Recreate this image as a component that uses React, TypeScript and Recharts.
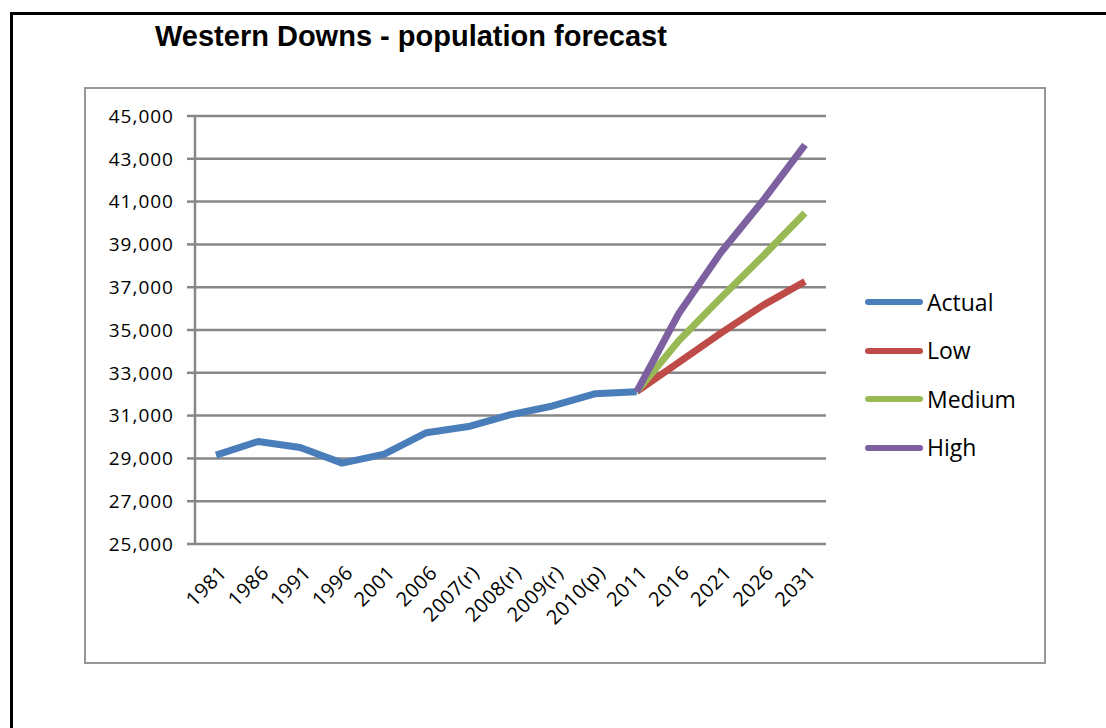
import React from 'react';
import { LineChart, Line, XAxis, YAxis, CartesianGrid } from 'recharts';

const years = ['1981', '1986', '1991', '1996', '2001', '2006', '2007(r)', '2008(r)', '2009(r)', '2010(p)', '2011', '2016', '2021', '2026', '2031'];
const actual = [29150, 29790, 29510, 28780, 29200, 30200, 30490, 31040, 31450, 32020, 32120, null, null, null, null];
const low = [null, null, null, null, null, null, null, null, null, null, 32120, 33490, 34850, 36150, 37270];
const medium = [null, null, null, null, null, null, null, null, null, null, 32120, 34500, 36500, 38450, 40470];
const high = [null, null, null, null, null, null, null, null, null, null, 32120, 35770, 38620, 41040, 43650];
const yTicks = [25000, 27000, 29000, 31000, 33000, 35000, 37000, 39000, 41000, 43000, 45000];

const series = [
  { key: 'actual', name: 'Actual', color: '#4A7EBB' },
  { key: 'low', name: 'Low', color: '#BE4B48' },
  { key: 'medium', name: 'Medium', color: '#98B954' },
  { key: 'high', name: 'High', color: '#7D60A0' },
];

const data = years.map((year, i) => ({
  i,
  year,
  actual: actual[i],
  low: low[i],
  medium: medium[i],
  high: high[i],
}));

// category centres sit on integers, the tick marks between them on halves
const labelTicks = years.map((_, i) => i);
const edgeTicks = [...years.map((_, i) => i - 0.5), years.length - 0.5];
const xDomain = [-0.5, years.length - 0.5];

const GRID = '#878787';
const FONT = '"Open Sans", sans-serif';

const YearTick = ({ x, y, payload }: any) => (
  <text
    x={x + 12}
    y={y + 30}
    transform={`rotate(-45 ${x + 12} ${y + 30})`}
    textAnchor="end"
    fontFamily={FONT}
    fontSize={20}
    letterSpacing={0.5}
    fill="#000"
  >
    {years[payload.value]}
  </text>
);

export default function App() {
  return (
    <div style={{ position: 'absolute', left: 0, top: 0, width: 1106, height: 728, background: '#fff', overflow: 'hidden' }}>
      <div style={{ position: 'absolute', left: 10, top: 12, width: 1200, height: 800, borderTop: '3px solid #000', borderLeft: '3px solid #000' }} />
      <div style={{ position: 'absolute', left: 84, top: 87, width: 962, height: 577, border: '2px solid #979797', boxSizing: 'border-box' }} />
      <div
        style={{
          position: 'absolute',
          left: 155,
          top: 22,
          fontFamily: '"Liberation Sans", Arial, sans-serif',
          fontWeight: 'bold',
          fontSize: 29,
          lineHeight: '29px',
          whiteSpace: 'nowrap',
        }}
      >
        Western Downs - population forecast
      </div>

      <div style={{ position: 'absolute', left: 0, top: 0 }}>
        <LineChart width={1106} height={728} data={data} margin={{ top: 116, right: 280, bottom: 114, left: 95 }}>
          <CartesianGrid xAxisId="label" vertical={false} stroke={GRID} strokeWidth={2.5} />
          <XAxis
            xAxisId="edge"
            dataKey="i"
            type="number"
            domain={xDomain}
            ticks={edgeTicks}
            interval={0}
            height={0}
            tick={false}
            tickSize={6}
            tickLine={{ stroke: GRID, strokeWidth: 2.5 }}
            axisLine={{ stroke: GRID, strokeWidth: 2.5 }}
          />
          <XAxis
            xAxisId="label"
            dataKey="i"
            type="number"
            domain={xDomain}
            ticks={labelTicks}
            interval={0}
            height={70}
            axisLine={false}
            tickLine={false}
            tickSize={0}
            tickMargin={0}
            tick={<YearTick />}
          />
          <YAxis
            width={100}
            domain={[25000, 45000]}
            ticks={yTicks}
            interval={0}
            tickSize={8}
            tickMargin={13}
            tickFormatter={(v: number) => v.toLocaleString('en-US')}
            tick={{ fontFamily: FONT, fontSize: 19, letterSpacing: 1, fill: '#000' }}
            tickLine={{ stroke: GRID, strokeWidth: 2.5 }}
            axisLine={{ stroke: GRID, strokeWidth: 2.5 }}
          />
          {series.map((s) => (
            <Line
              key={s.key}
              xAxisId="label"
              dataKey={s.key}
              name={s.name}
              type="linear"
              stroke={s.color}
              strokeWidth={7}
              strokeLinejoin="round"
              dot={false}
              activeDot={false}
              isAnimationActive={false}
            />
          ))}
        </LineChart>
      </div>

      {series.map((s, i) => (
        <div
          key={s.key}
          style={{
            position: 'absolute',
            left: 865,
            top: 302 + i * 48.6 - 15,
            height: 30,
            display: 'flex',
            alignItems: 'center',
          }}
        >
          <div style={{ width: 58, height: 6, borderRadius: 3, background: s.color }} />
          <span style={{ marginLeft: 4, fontFamily: FONT, fontSize: 23, lineHeight: '23px', color: '#000' }}>{s.name}</span>
        </div>
      ))}
    </div>
  );
}
